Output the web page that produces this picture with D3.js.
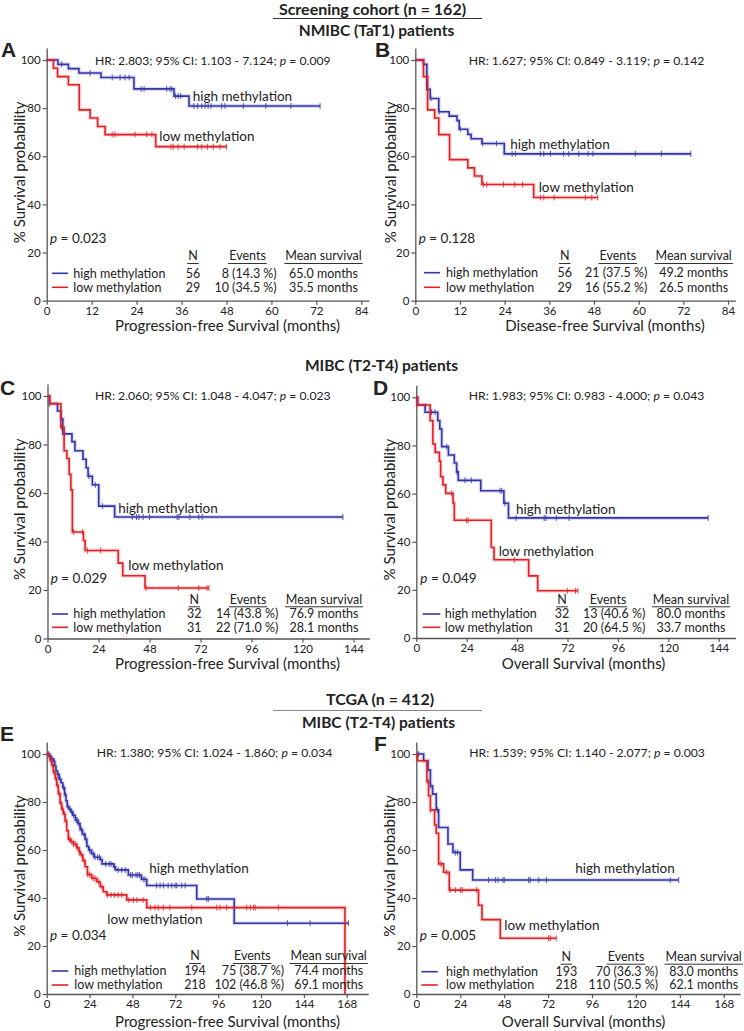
<!DOCTYPE html>
<html><head><meta charset="utf-8">
<script src="https://cdn.jsdelivr.net/npm/d3@7"></script>
<style>
body{margin:0;background:#fff}
text{font-family:Lato,"Open Sans",sans-serif;fill:#222}
</style>
</head><body>
<svg id="chart" width="744" height="1031"></svg>
<script>
// ===== DATA =====
// Steps: [time (months), survival % after the step]
const A_high = [[0,100],[3,98.2],[5.8,96.4],[8.6,94.6],[14.5,92.7],[23.3,88],[34,85],[38,80.9]];
const A_high_end = 73;
const A_high_censor = [4,11.6,17.5,19.6,20.9,22,25.2,26,32,32.9,33.4,34.4,35.1,35.8,39.3,40.3,41.4,42.3,43.1,43.9,46.7,47.6,52.5,58.5,65.2,73];
const A_low = [[0,100],[1.8,96.6],[2.9,93.1],[5.8,89.7],[8.7,79.3],[11.6,75.9],[13.6,72.4],[15.6,69],[29.1,64]];
const A_low_end = 48;
const A_low_censor = [17.5,18.2,23.6,26.7,28.1,33.2,33.8,35.1,36.7,40.3,41.4,42.9,44.5,46.3,48];

const B_high = [[0,100],[2.2,98.2],[3.1,87.8],[4,84],[6.3,78.5],[9.1,76.7],[11.2,74.8],[11.8,71.2],[14.1,69.1],[15,67.3],[17.9,65.3],[23.9,61]];
const B_high_end = 74;
const B_high_censor = [4.2,6.4,12.1,18.1,21.8,26,26.9,33.6,34.5,36.3,39.8,41.2,43.9,46.4,47.7,59.1,66.1,74];
const B_low = [[0,100],[2.2,93.1],[3.3,79.3],[5.2,75.9],[6.3,69],[9.2,58.6],[14.1,55.2],[15.9,51.8],[17.9,48.3],[31.8,42.9]];
const B_low_end = 49;
const B_low_censor = [18.3,19.2,23.7,26.7,28.8,33.6,34.5,37.3,45.7,47.4,49];

const C_high = [[0,100],[1,96.9],[4.7,93.8],[6.3,90.6],[7.2,84.4],[11.5,81.2],[12.9,77.4],[16.7,73.9],[18.2,70.4],[19.1,66.9],[21.1,63.4],[24.1,54.6],[31.6,50.1]];
const C_high_end = 139;
const C_high_censor = [1,8,19.5,22.5,25.9,39.9,41.9,43,45,48,61,61.8,67,71.2,72.8,139];
const C_low = [[0,100],[1,96.8],[6.3,87.1],[7.8,77.4],[9.1,74.2],[10.2,67.7],[11,61.3],[11.7,43.9],[16.9,40.4],[17.7,36.3],[33.3,31.1],[35.4,25.9],[45.9,20.8]];
const C_low_end = 76;
const C_low_censor = [6.6,12.3,16.5,18.8,25,46.4,61.5,71.2,75.1,76];

const D_high = [[0,100],[0.6,96.9],[4.2,93.8],[10.2,90.3],[11.2,86.9],[12.1,79.5],[15.3,76],[18.1,72.7],[19.2,69],[20,65.5],[30.7,61.2],[41.7,56],[43.9,49.9]];
const D_high_end = 139;
const D_high_censor = [7.3,8.9,14.5,19.4,23.2,26.2,39.9,40.7,42.2,47.5,60.9,61.7,66.7,72.7,139];
const D_low = [[0,100],[0.6,96.8],[6.6,90.3],[7.9,80.6],[9,77.1],[11,73.5],[11.6,67],[12.7,63.6],[14,60.1],[17.5,56.1],[18.1,48.9],[35.7,37.6],[37,32.5],[53.5,25.8],[57.8,19.6]];
const D_low_end = 77;
const D_low_censor = [16.8,23.9,24.7,46.7,71.9,75.8,77];

const E_high = [[0,100],[1.5,99],[2.5,98],[3.7,97],[4.5,95],[5.2,93],[6,91.5],[7,89.5],[8,88],[9,86],[10,83],[10.8,80.5],[11.5,78],[12.5,77],[13.5,76],[14.5,74.5],[16,72.5],[17.5,71],[18.7,68.5],[20,66.5],[21.5,64.5],[22.5,61.5],[23.5,60],[25,58.5],[26.5,57],[30,56],[31,54.2],[37.5,53],[38.5,51.7],[45.7,49.6],[53,47.8],[56,45.2],[84,39.6],[105,29.5]];
const E_high_end = 169;
const E_high_censor = [1,2,3,4.2,6.3,7.5,9.5,10.5,12,13,14,15,16.5,17,18,19.5,21,22,24,26,27,28.5,29.5,33,35,36,38,40,42,44,47,48,50,51,52,54,55,61.5,63.5,65.3,68,70,71.9,72.8,75.6,77.5,89.6,90.5,134.8,147.5,169];
const E_low = [[0,100],[1,99],[1.9,97.5],[2.8,95.5],[3.7,92.5],[4.7,90],[5.6,87],[6.5,83.5],[7.5,79.5],[8.4,77],[9.3,75],[10.3,72],[11.2,68],[12.1,64.5],[13.5,63.5],[14.9,62.5],[16.8,61],[18,59.5],[18.7,58],[20.2,55.5],[21.5,53],[22.8,49.8],[25.2,48.2],[28,46.8],[29.9,44.7],[31.7,42.6],[33.6,41.3],[44.8,39.2],[56,36],[167,0]];
const E_low_end = 167;
const E_low_censor = [2,3,4,5,6,7,8,9,10,11,12.5,13,14,15,16,17,18.3,19.5,21,23,24,26,27,29,31,34,36,38,40,42,46,48.5,50.5,54,58,60.7,62.5,65.3,69,81.2,95.2,97,100.8,112,114,115.8,116.8,129.7];

const F_high = [[0,100],[4,97.2],[6.4,93.3],[7.7,86.8],[8.9,83.3],[10.9,76.7],[12.2,69.4],[17.3,62.5],[20,59],[24,51.7],[30.8,47.5]];
const F_high_end = 143.4;
const F_high_censor = [1.2,7.9,11.5,21.3,22.5,39.5,43.2,44.6,47.4,48.1,61.4,62.3,66.9,71.1,138.8,143.4];
const F_low = [[0,100],[0.7,97.2],[5.8,88.5],[6.7,82.6],[7.7,76.7],[10,70.4],[10.9,67],[12.2,54.2],[14.9,50.7],[18,43.3],[34,37],[35.9,31],[45.9,23.2]];
const F_low_end = 76.5;
const F_low_censor = [6.5,7.8,13.5,16.5,18.5,21.4,24.2,25.1,33,72.3,73.3,76.5];

// Statistics text
const panelIds = ["A","B","C","D","E","F"];
const hrTexts = ["HR: 2.803; 95% CI: 1.103 - 7.124; ","HR: 1.627; 95% CI: 0.849 - 3.119; ","HR: 2.060; 95% CI: 1.048 - 4.047; ","HR: 1.983; 95% CI: 0.983 - 4.000; ","HR: 1.380; 95% CI: 1.024 - 1.860; ","HR: 1.539; 95% CI: 1.140 - 2.077; "];
const hrP = ["0.009","0.142","0.023","0.043","0.034","0.003"];
const logrankP = ["0.023","0.128","0.029","0.049","0.034","0.005"];
const nHigh = [56,56,32,32,194,193];
const nLow = [29,29,31,31,218,218];
const eventsHigh = ["8 (14.3 %)","21 (37.5 %)","14 (43.8 %)","13 (40.6 %)","75 (38.7 %)","70 (36.3 %)"];
const eventsLow = ["10 (34.5 %)","16 (55.2 %)","22 (71.0 %)","20 (64.5 %)","102 (46.8 %)","110 (50.5 %)"];
const meanHigh = ["65.0 months","49.2 months","76.9 months","80.0 months","74.4 months","83.0 months"];
const meanLow = ["35.5 months","26.5 months","28.1 months","33.7 months","69.1 months","62.1 months"];
const xLabels = ["Progression-free Survival (months)","Disease-free Survival (months)","Progression-free Survival (months)","Overall Survival (months)","Progression-free Survival (months)","Overall Survival (months)"];
const xTickStep = [12,12,24,24,24,24];
const xTickMax = [84,84,144,144,168,168];
const yTicks = [0,20,40,60,80,100];
const seriesNames = ["high methylation","low methylation"];

// ===== LAYOUT =====
const L = {
  A:{x0:46.7,ppm:3.745,xmax:86,ytop:60,y0:300.7,letter:[1,50],hr:[95,61],p:[50,238.3],hi:[192.7,96.7],lo:[159.3,136.7],xl:[227.5,326],yl:20,
     lg:{l1:52,l2:68,tx:73.3,hdr:256,r1:273.3,r2:287.3,N:193,evR:276.7,evC:247.5,mean:323.5}},
  B:{x0:415.3,ppm:3.723,xmax:86,ytop:60,y0:300.7,letter:[375,50],hr:[468.7,61],p:[418.7,238.3],hi:[510.3,144],lo:[538.7,187.7],xl:[605,326],yl:391,
     lg:{l1:424,l2:440,tx:446,hdr:256,r1:272.7,r2:287.3,N:564.7,evR:647.3,evC:617.8,mean:693.7}},
  C:{x0:47.5,ppm:2.125,xmax:151.5,ytop:396,y0:638.5,letter:[0,387.3],hr:[95,396],p:[50.7,578.3],hi:[118.3,508.3],lo:[128.3,565],xl:[227.5,663.3],yl:20,
     lg:{l1:52,l2:68,tx:73.3,hdr:599.3,r1:614,r2:627.3,N:194.3,evR:278.3,evC:248,mean:324}},
  D:{x0:416.3,ppm:2.1,xmax:152,ytop:397.3,y0:638,letter:[373,387.5],hr:[468.7,396],p:[420.3,578.3],hi:[516,509],lo:[498.7,551],xl:[583.5,663.3],yl:390,
     lg:{l1:422.7,l2:440.3,tx:444.7,hdr:599.3,r1:614,r2:627.3,N:562,evR:645.3,evC:608,mean:691}},
  E:{x0:46.7,ppm:1.786,xmax:180,ytop:754,y0:994,letter:[0,734],hr:[96.7,752.7],p:[50,935],hi:[149.3,868.7],lo:[107.3,919.3],xl:[227.5,1021.7],yl:20,
     lg:{l1:51.7,l2:68.3,tx:74.3,hdr:956,r1:971,r2:985,N:195,evR:284,evC:252.3,mean:328.7}},
  F:{x0:416.3,ppm:1.83,xmax:177,ytop:754,y0:994,letter:[374,744],hr:[469.3,752.7],p:[419.7,935],hi:[575.3,868.7],lo:[504.3,925.7],xl:[583.5,1021.7],yl:390,
     lg:{l1:421.3,l2:437.7,tx:446,hdr:956.7,r1:971.7,r2:985,N:566.3,evR:658,evC:626,mean:703.7}}
};
const seriesData = {
  A:[[A_high,A_high_end,A_high_censor],[A_low,A_low_end,A_low_censor]],
  B:[[B_high,B_high_end,B_high_censor],[B_low,B_low_end,B_low_censor]],
  C:[[C_high,C_high_end,C_high_censor],[C_low,C_low_end,C_low_censor]],
  D:[[D_high,D_high_end,D_high_censor],[D_low,D_low_end,D_low_censor]],
  E:[[E_high,E_high_end,E_high_censor],[E_low,E_low_end,E_low_censor]],
  F:[[F_high,F_high_end,F_high_censor],[F_low,F_low_end,F_low_censor]]
};
const COLORS = ["#3535a8","#e02026"];
const AXIS = "#555";
const FS_LEG = 12.5, FS_LBL = 13.5, FS_HR = 12.2, FS_TICK = 11.5, FS_AX = 15;

const svg = d3.select("#chart");

// ===== HEADERS =====
function hdr(txt, x, y, size){
  svg.append("text").attr("x",x).attr("y",y).attr("dy","0.35em").attr("text-anchor","middle")
    .style("font-weight","bold").style("font-size",size+"px").text(txt);
}
hdr("Screening cohort (n = 162)",372.5,9.5,16);
svg.append("line").attr("x1",273).attr("x2",482).attr("y1",18.5).attr("y2",18.5).attr("stroke","#333").attr("stroke-width",1.2);
hdr("NMIBC (TaT1) patients",376.5,31,15.5);
hdr("MIBC (T2-T4) patients",381.5,366,15.5);
hdr("TCGA (n = 412)",380,699.5,16);
svg.append("line").attr("x1",273).attr("x2",482).attr("y1",710.5).attr("y2",710.5).attr("stroke","#888").attr("stroke-width",1.2);
hdr("MIBC (T2-T4) patients",378.5,722.5,15.5);

function survAt(steps, t){
  let s = steps[0][1];
  for(const st of steps){ if(st[0] <= t) s = st[1]; }
  return s;
}

panelIds.forEach((id, i) => {
  const P = L[id];
  const g = svg.append("g");
  const x = d3.scaleLinear().domain([0,P.xmax]).range([P.x0, P.x0 + P.ppm*P.xmax]);
  const y = d3.scaleLinear().domain([0,105]).range([P.y0, P.y0 - (P.y0-P.ytop)*1.05]);

  // axes
  const xt = d3.range(0, xTickMax[i]+0.001, xTickStep[i]);
  const gx = g.append("g").attr("transform",`translate(0,${P.y0})`)
    .call(d3.axisBottom(x).tickValues(xt).tickSize(4).tickSizeOuter(0).tickPadding(2));
  const gy = g.append("g").attr("transform",`translate(${P.x0},0)`)
    .call(d3.axisLeft(y).tickValues(yTicks).tickSize(4).tickSizeOuter(0).tickPadding(2));
  [gx,gy].forEach(a=>{
    a.select(".domain").attr("stroke",AXIS).attr("stroke-width",1.3);
    a.selectAll(".tick line").attr("stroke",AXIS).attr("stroke-width",1.2);
    a.selectAll(".tick text").style("font-size",FS_TICK+"px").style("font-family","Lato, sans-serif").attr("fill","#333");
  });

  // curves
  seriesData[id].forEach((sd, k) => {
    const [steps, end, cens] = sd;
    const pts = steps.concat([[end, steps[steps.length-1][1]]]);
    const line = d3.line().x(d=>x(d[0])).y(d=>y(d[1])).curve(d3.curveStepAfter);
    g.append("path").attr("d",line(pts)).attr("fill","none")
      .attr("stroke",COLORS[k]).attr("stroke-opacity",0.18).attr("stroke-width",4);
    g.append("path").attr("d",line(pts)).attr("fill","none")
      .attr("stroke",COLORS[k]).attr("stroke-width",1.6);
    g.selectAll(null).data(cens).enter().append("line")
      .attr("x1",d=>x(d)).attr("x2",d=>x(d))
      .attr("y1",d=>y(survAt(steps,d))-3).attr("y2",d=>y(survAt(steps,d))+3)
      .attr("stroke",COLORS[k]).attr("stroke-opacity",0.75).attr("stroke-width",1.1);
  });

  // letter
  g.append("text").attr("x",P.letter[0]).attr("y",P.letter[1]).attr("dy","0.35em")
    .style("font-weight","bold").style("font-size","21px").style("font-family","Liberation Sans, Arial, sans-serif").attr("fill","#111").text(id);

  // HR text
  const hr = g.append("text").attr("x",P.hr[0]).attr("y",P.hr[1]).attr("dy","0.35em").style("font-size",FS_HR+"px");
  hr.append("tspan").text(hrTexts[i]);
  hr.append("tspan").style("font-style","italic").text("p");
  hr.append("tspan").text(" = " + hrP[i]);

  // log-rank p
  const pt = g.append("text").attr("x",P.p[0]).attr("y",P.p[1]).attr("dy","0.35em").style("font-size",FS_LBL+"px");
  pt.append("tspan").style("font-style","italic").text("p");
  pt.append("tspan").text(" = " + logrankP[i]);

  // curve labels
  g.append("text").attr("x",P.hi[0]).attr("y",P.hi[1]).attr("dy","0.35em").style("font-size",FS_LBL+"px").text(seriesNames[0]);
  g.append("text").attr("x",P.lo[0]).attr("y",P.lo[1]).attr("dy","0.35em").style("font-size",FS_LBL+"px").text(seriesNames[1]);

  // axis labels
  g.append("text").attr("x",P.xl[0]).attr("y",P.xl[1]).attr("dy","0.35em").attr("text-anchor","middle").style("font-size",FS_AX+"px").text(xLabels[i]);
  g.append("text").attr("transform",`translate(${P.yl},${(P.ytop+P.y0)/2 - 8}) rotate(-90)`).attr("dy","0.35em")
    .attr("text-anchor","middle").style("font-size",FS_AX+"px").text("% Survival probability");

  // legend table
  const lg = P.lg;
  function ht(txt, xx){
    const t = g.append("text").attr("x",xx).attr("y",lg.hdr).attr("dy","0.35em").attr("text-anchor","middle").style("font-size",FS_LEG+"px").text(txt);
    const w = t.node().getComputedTextLength();
    g.append("line").attr("x1",xx - w/2 - 1).attr("x2",xx + w/2 + 1).attr("y1",lg.hdr+7.5).attr("y2",lg.hdr+7.5).attr("stroke","#333").attr("stroke-width",1);
  }
  ht("N", lg.N);
  ht("Events", lg.evC);
  ht("Mean survival", lg.mean);
  [[lg.r1, nHigh[i], eventsHigh[i], meanHigh[i]],[lg.r2, nLow[i], eventsLow[i], meanLow[i]]].forEach((r,k)=>{
    g.append("line").attr("x1",lg.l1).attr("x2",lg.l2).attr("y1",r[0]).attr("y2",r[0]).attr("stroke",COLORS[k]).attr("stroke-width",1.6);
    g.append("text").attr("x",lg.tx).attr("y",r[0]).attr("dy","0.35em").style("font-size",FS_LEG+"px").text(seriesNames[k]);
    g.append("text").attr("x",lg.N).attr("y",r[0]).attr("dy","0.35em").attr("text-anchor","middle").style("font-size",FS_LEG+"px").text(r[1]);
    g.append("text").attr("x",lg.evR).attr("y",r[0]).attr("dy","0.35em").attr("text-anchor","end").style("font-size",FS_LEG+"px").text(r[2]);
    g.append("text").attr("x",lg.mean).attr("y",r[0]).attr("dy","0.35em").attr("text-anchor","middle").style("font-size",FS_LEG+"px").text(r[3]);
  });
});
</script>
</body></html>
